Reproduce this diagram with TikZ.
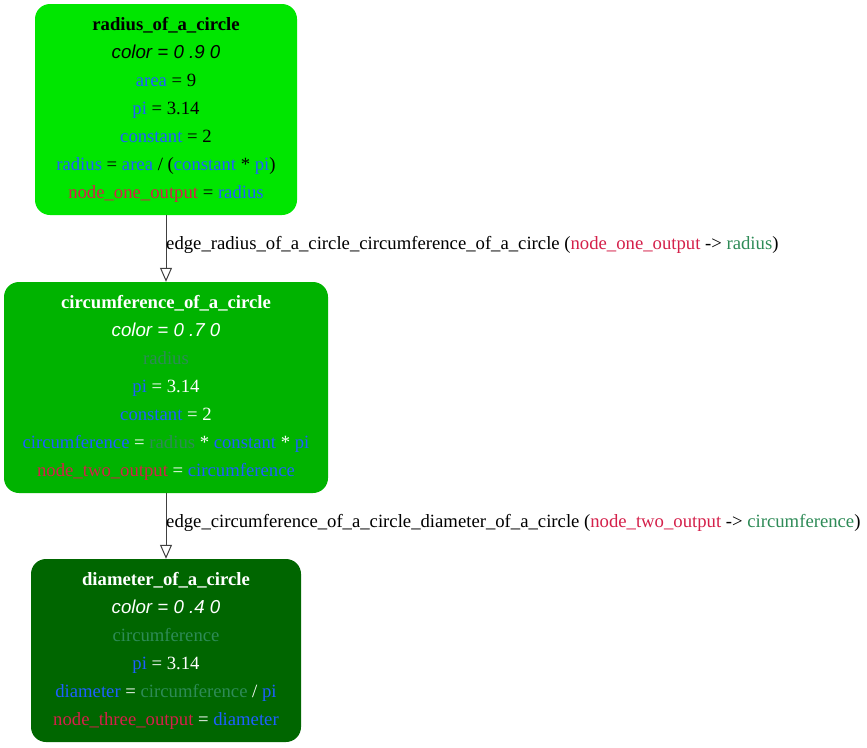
\documentclass[tikz,border=0pt]{standalone}
\usepackage{fontspec}
\setmainfont{Liberation Serif}
\newfontfamily\attrfont{Liberation Sans}
\usetikzlibrary{arrows.meta}
\definecolor{varblue}{HTML}{1F5FFF}
\definecolor{varred}{HTML}{D4204A}
\definecolor{vargreen}{HTML}{2E8B57}
\definecolor{lvlA}{HTML}{00E600}
\definecolor{lvlB}{HTML}{00B300}
\definecolor{lvlC}{HTML}{006600}
\newcommand{\vB}[1]{\textcolor{varblue}{#1}}
\newcommand{\vR}[1]{\textcolor{varred}{#1}}
\newcommand{\vG}[1]{\textcolor{vargreen}{#1}}
\newcommand{\attr}[1]{{\attrfont\itshape #1}}
\tikzset{
  calcbox/.style={draw=none, rounded corners=15pt, inner sep=0pt, align=center,
    font=\fontsize{18.7}{28}\selectfont},
  flow/.style={draw=black!75, line width=1pt,
    -{Triangle[open, length=14pt, width=12pt, line width=1pt]}},
  flowlabel/.style={anchor=west, inner sep=0pt, font=\fontsize{18.7}{22}\selectfont}
}
\begin{document}
\begin{tikzpicture}[x=1pt, y=-1pt]
\useasboundingbox (0,0) rectangle (867,747);

% the three calculation steps
\node[calcbox, fill=lvlA, text=black, minimum width=262pt, minimum height=211pt]
  (radius) at (166,109.5) {%
  \textbf{radius\_of\_a\_circle}\\
  \attr{color = 0 .9 0}\\
  \vB{area} = 9\\
  \vB{pi} = 3.14\\
  \vB{constant} = 2\\
  \vB{radius} = \vB{area} / (\vB{constant} * \vB{pi})\\
  \vR{node\_one\_output} = \vB{radius}};

\node[calcbox, fill=lvlB, text=white, minimum width=324pt, minimum height=211pt]
  (circum) at (166,387.5) {%
  \textbf{circumference\_of\_a\_circle}\\
  \attr{color = 0 .7 0}\\
  \vG{radius}\\
  \vB{pi} = 3.14\\
  \vB{constant} = 2\\
  \vB{circumference} = \vG{radius} * \vB{constant} * \vB{pi}\\
  \vR{node\_two\_output} = \vB{circumference}};

\node[calcbox, fill=lvlC, text=white, minimum width=270pt, minimum height=183pt]
  (diam) at (166,650.5) {%
  \textbf{diameter\_of\_a\_circle}\\
  \attr{color = 0 .4 0}\\
  \vG{circumference}\\
  \vB{pi} = 3.14\\
  \vB{diameter} = \vG{circumference} / \vB{pi}\\
  \vR{node\_three\_output} = \vB{diameter}};

% connections between the steps
\draw[flow] (radius.south) -- (circum.north);
\draw[flow] (circum.south) -- (diam.north);

\node[flowlabel] (labA) at (166,245)
  {edge\_radius\_of\_a\_circle\_circumference\_of\_a\_circle (\vR{node\_one\_output} -> \vG{radius})};
\node[flowlabel] (labB) at (166,523)
  {edge\_circumference\_of\_a\_circle\_diameter\_of\_a\_circle (\vR{node\_two\_output} -> \vG{circumference})};
\end{tikzpicture}
\end{document}
